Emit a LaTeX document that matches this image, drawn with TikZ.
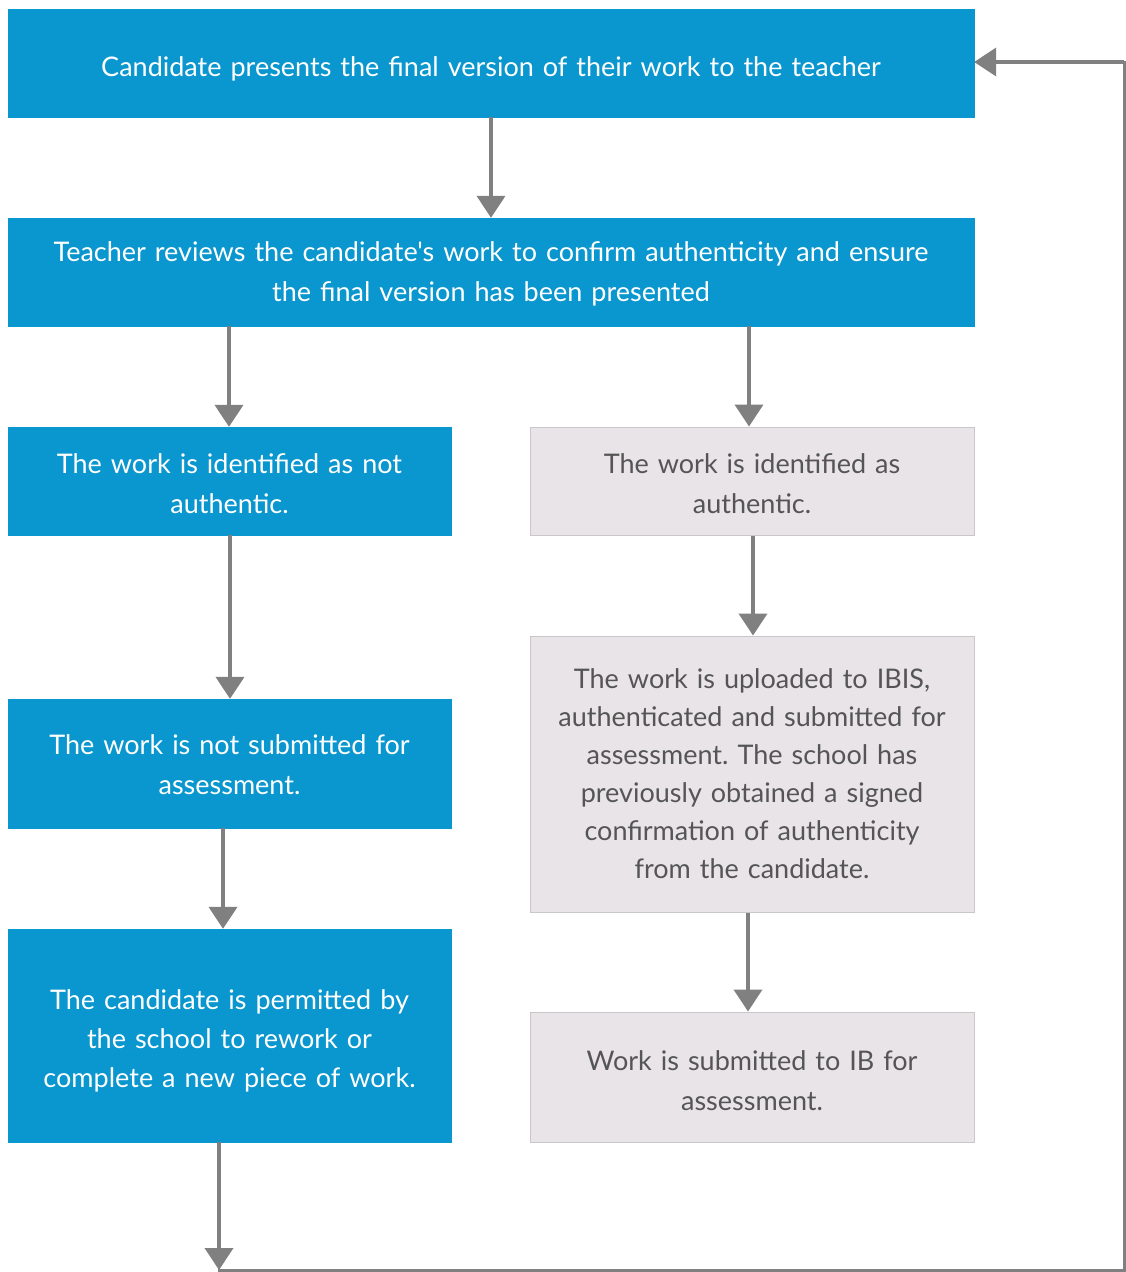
\documentclass[tikz,border=0pt]{standalone}
\usepackage{fontspec}
\setmainfont{Lato}[Ligatures=TeXOff]
\frenchspacing
\usetikzlibrary{arrows.meta}
\definecolor{ibblue}{HTML}{0A96CE}
\definecolor{ibgray}{HTML}{E8E4E7}
\definecolor{ibgrayline}{HTML}{C9C7C8}
\definecolor{ibtext}{HTML}{555555}
\definecolor{arrowgray}{HTML}{808080}
\begin{document}
\begin{tikzpicture}[x=1pt,y=-1pt,
  bluebox/.style={fill=ibblue,draw=ibblue,text=white,inner sep=0pt,align=center,
    font=\fontsize{27}{39}\selectfont},
  graybox/.style={fill=ibgray,draw=ibgrayline,line width=1pt,text=ibtext,inner sep=0pt,align=center,
    font=\fontsize{27}{38}\selectfont},
  conn/.style={draw=arrowgray,line width=4pt,-{Triangle[width=28pt,length=22pt]}},
  plain/.style={draw=arrowgray,line width=3pt}]
\useasboundingbox (0,0) rectangle (1126,1272);
\fill[white] (0,0) rectangle (1126,1272);
% boxes
\node[bluebox,minimum width=966pt,minimum height=108pt,text width=940pt,text height=36pt,text depth=10pt] (b1) at (491,63)
  {Candidate presents the final version of their work to the teacher};
\node[bluebox,minimum width=966pt,minimum height=108pt,text width=940pt,text height=24pt,font=\fontsize{27}{40}\selectfont] (b2) at (491,272)
  {Teacher reviews the candidate's work to confirm authenticity and ensure\\the final version has been presented};
\node[bluebox,minimum width=443pt,minimum height=108pt,text width=420pt,text height=26pt,font=\fontsize{27}{40}\selectfont] (b3) at (229.5,481)
  {The work is identified as not\\authentic.};
\node[graybox,minimum width=444pt,minimum height=108pt,text width=420pt,text height=26pt,font=\fontsize{27}{40}\selectfont] (b4) at (752,481)
  {The work is identified as\\authentic.};
\node[bluebox,minimum width=443pt,minimum height=129pt,text width=420pt,text height=22pt,font=\fontsize{27}{40}\selectfont] (b5) at (229.5,763.5)
  {The work is not submitted for\\assessment.};
\node[graybox,minimum width=444pt,minimum height=276pt,text width=420pt] (b6) at (752,774)
  {The work is uploaded to IBIS,\\authenticated and submitted for\\assessment. The school has\\previously obtained a signed\\confirmation of authenticity\\from the candidate.};
\node[bluebox,minimum width=443pt,minimum height=213pt,text width=420pt,text height=30pt] (b7) at (229.5,1035.5)
  {The candidate is permitted by\\the school to rework or\\complete a new piece of work.};
\node[graybox,minimum width=444pt,minimum height=130pt,text width=420pt,text height=28pt,font=\fontsize{27}{40}\selectfont] (b8) at (752,1077)
  {Work is submitted to IB for\\assessment.};
% column coordinates
\coordinate (xa) at (491,0);
\coordinate (xb) at (229,0);
\coordinate (xc) at (749,0);
\coordinate (xd) at (230,0);
\coordinate (xe) at (753,0);
\coordinate (xf) at (223,0);
\coordinate (xg) at (748,0);
\coordinate (xh) at (219,0);
% corner coordinates
\coordinate (c1) at (219,1270);
\coordinate (c2) at (1124,1270);
\coordinate (c3) at (1124,62);
% connectors
\draw[conn] (b1.south -| xa) -- (b2.north -| xa);
\draw[conn] (b2.south -| xb) -- (b3.north -| xb);
\draw[conn] (b2.south -| xc) -- (b4.north -| xc);
\draw[conn] (b3.south -| xd) -- (b5.north -| xd);
\draw[conn] (b4.south -| xe) -- (b6.north -| xe);
\draw[conn] (b5.south -| xf) -- (b7.north -| xf);
\draw[conn] (b6.south -| xg) -- (b8.north -| xg);
\draw[conn] (b7.south -| xh) -- (c1);
\draw[plain,line cap=rect] (c1) -- (c2) -- (c3);
\draw[conn] (c3) -- (b1.east |- c3);
\end{tikzpicture}
\end{document}
